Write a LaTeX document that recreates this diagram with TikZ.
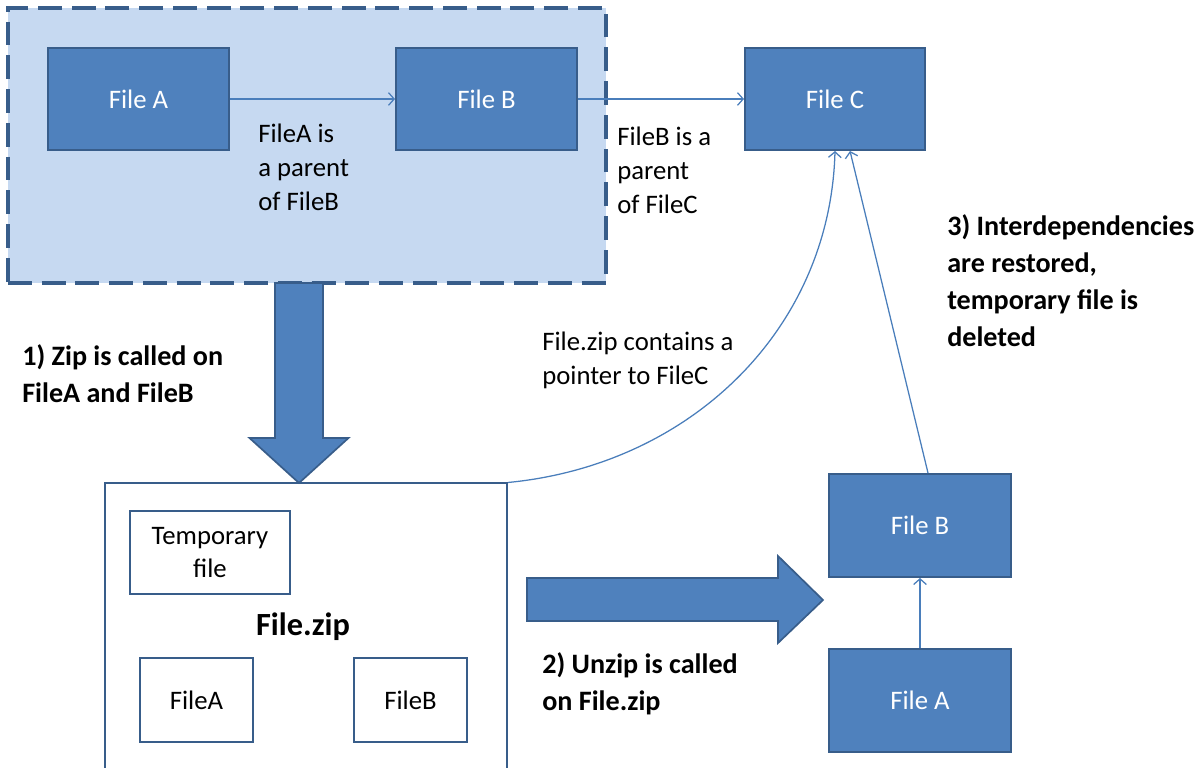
\documentclass[tikz,border=0pt]{standalone}
\usepackage{fontspec}
\setmainfont{Carlito}
\usepackage{tikz}
\usetikzlibrary{arrows.meta, positioning}
\definecolor{boxblue}{HTML}{4F81BD}
\definecolor{boxedge}{HTML}{385D8A}
\definecolor{grpblue}{HTML}{C6D9F1}
\definecolor{linkblue}{HTML}{4A7EBB}

\begin{document}
\begin{tikzpicture}[x=0.025cm, y=-0.025cm,
    file/.style={shape=rectangle, draw=boxedge, fill=boxblue, line width=1.4pt, text=white,
      minimum width=4.525cm, minimum height=2.55cm, font=\fontsize{19}{24}\selectfont},
    packed/.style={shape=rectangle, draw=boxedge, fill=white, line width=1.4pt, align=center,
      font=\fontsize{19}{24}\selectfont},
    link/.style={draw=linkblue, line width=0.9pt, -{Straight Barb[length=4pt,width=9pt]}},
    note/.style={anchor=west, align=left, inner sep=0pt, font=\fontsize{19}{24.2}\selectfont},
    stepnote/.style={note, font=\bfseries\fontsize{20}{26.3}\selectfont},
    fat/.style={draw=boxedge, fill=boxblue, line width=1.2pt, line join=miter}]
    \useasboundingbox (0,0) rectangle (1202,768);

    % the two linked files before zipping
    \node[shape=rectangle, draw=boxedge, fill=grpblue, line width=2.4pt, dash pattern=on 17pt off 7pt,
      minimum width=14.95cm, minimum height=6.875cm] (grp) at (307,145.5) {};
    \node[file] (fa) at (138.5,99) {File A};
    \node[file] (fb) at (486.5,99) {File B};
    \node[file, minimum width=4.5cm] (fc) at (835,99) {File C};

    \path[link] (fa) edge (fb);
    \path[link] (fb) edge (fc);
    \node[note] (fanote) at (258,167) {FileA is\\a parent\\of FileB};
    \node[note] (fbnote) at (617,170) {FileB is a\\parent\\of FileC};

    % the archive
    \node[shape=rectangle, draw=boxedge, fill=white, line width=1.4pt,
      minimum width=10.05cm, minimum height=7.3cm] (zip) at (306,629.5) {};
    \node[font=\bfseries\fontsize{23}{28}\selectfont] (ziplbl) at (303,627) {File.zip};
    \node[packed, minimum width=4cm, minimum height=2.075cm] (tmp) at (210,552.5) {Temporary\\file};
    \node[packed, minimum width=2.825cm, minimum height=2.1cm] (za) at (196.5,700) {FileA};
    \node[packed, minimum width=2.825cm, minimum height=2.1cm] (zb) at (410.5,700) {FileB};

    \draw[link] (zip.north east) .. controls (690,465) and (830,330) .. (fc.south);
    \node[note] (ptr) at (542,360) {File.zip contains a\\pointer to FileC};

    % unzipped files
    \node[file, minimum width=4.55cm, minimum height=2.575cm] (rb) at (920,525.5) {File B};
    \node[file, minimum width=4.55cm, minimum height=2.575cm] (ra) at (920,700.5) {File A};
    \path[link] (ra) edge (rb);
    \draw[link] ([xshift=0.2cm]rb.north) -- ([xshift=0.375cm]fc.south);

    % big arrows for the two steps
    \coordinate (ztip) at (299,483);
    \filldraw[fat] (ztip) -- ++(-49.5,-45) -- ++(25.5,0) -- ++(0,-155) -- ++(48,0)
      -- ++(0,155) -- ++(25.5,0) -- cycle;
    \coordinate (utip) at (823,600);
    \filldraw[fat] (utip) -- ++(-45,-44) -- ++(0,22) -- ++(-251,0) -- ++(0,43)
      -- ++(251,0) -- ++(0,22) -- cycle;

    \node[stepnote] (s1) at (22,374) {1) Zip is called on\\FileA and FileB};
    \node[stepnote] (s2) at (542,684) {2) Unzip is called\\on File.zip};
    \node[stepnote] (s3) at (947,281) {3) Interdependencies\\are restored,\\temporary file is\\deleted};
\end{tikzpicture}
\end{document}
